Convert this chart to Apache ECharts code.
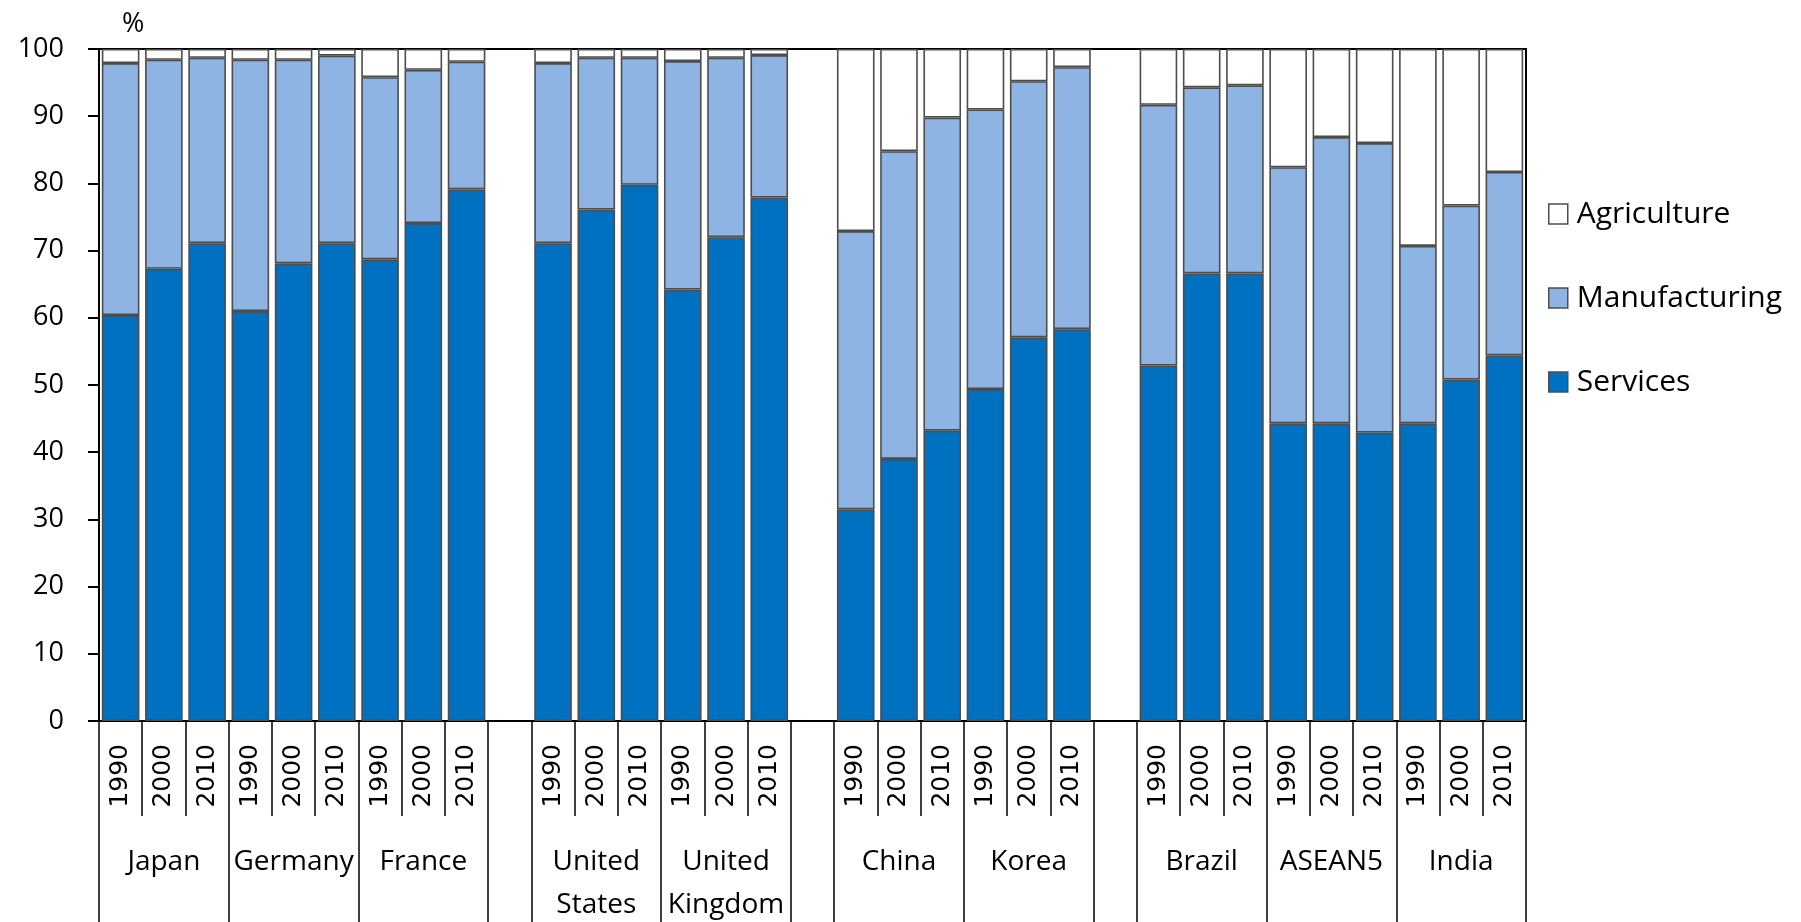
<!DOCTYPE html>
<html>
<head>
<meta charset="utf-8">
<script src="https://cdn.jsdelivr.net/npm/echarts@6/dist/echarts.min.js"></script>
<style>
  html, body { margin: 0; padding: 0; background: #ffffff; }
  #chart { width: 1801px; height: 922px; }
</style>
</head>
<body>
<div id="chart"></div>
<script>
// Output shares by sector (% of value added), 1990 / 2000 / 2010 per economy
const countries = ['Japan', 'Germany', 'France', 'United States', 'United Kingdom',
                   'China', 'Korea', 'Brazil', 'ASEAN5', 'India'];
const years = ['1990', '2000', '2010'];
// an empty slot separates these economies from the next block
const blockEnds = ['France', 'United Kingdom', 'Korea'];

const services = [
  60.4, 67.3, 71.1,   // Japan
  61.0, 68.1, 71.1,   // Germany
  68.7, 74.1, 79.1,   // France
  71.1, 76.1, 79.8,   // United States
  64.2, 72.0, 77.9,   // United Kingdom
  31.5, 39.0, 43.2,   // China
  49.4, 57.1, 58.3,   // Korea
  52.9, 66.6, 66.6,   // Brazil
  44.3, 44.3, 42.9,   // ASEAN5
  44.3, 50.8, 54.4    // India
];
const manufacturing = [
  37.5, 31.1, 27.6,
  37.4, 30.3, 27.9,
  27.1, 22.8, 19.0,
  26.8, 22.6, 18.9,
  34.0, 26.7, 21.2,
  41.4, 45.8, 46.6,
  41.6, 38.1, 39.0,
  38.8, 27.7, 28.0,
  38.1, 42.6, 43.1,
  26.4, 25.9, 27.3
];
const agriculture = [
  2.1, 1.6, 1.3,
  1.6, 1.6, 1.0,
  4.2, 3.1, 1.9,
  2.1, 1.3, 1.3,
  1.8, 1.3, 0.9,
  27.1, 15.2, 10.2,
  9.0, 4.8, 2.7,
  8.3, 5.7, 5.4,
  17.6, 13.1, 14.0,
  29.3, 23.3, 18.3
];
const yTicks = { min: 0, max: 100, step: 10 };

// Build the category slots: one per economy-year, plus an empty slot between blocks
const slots = [];
countries.forEach(function (c, ci) {
  years.forEach(function (y, yi) {
    slots.push({ country: c, year: y, mid: yi === 1, start: yi === 0, k: ci * years.length + yi });
  });
  if (blockEnds.indexOf(c) >= 0) slots.push({ gap: true, start: true });
});
const slotIds = slots.map(function (s, i) { return 'slot' + i; });
function column(values) {
  return slots.map(function (s) { return s.gap ? '-' : values[s.k]; });
}

const FONT = '"Open Sans", "Liberation Sans", sans-serif';
const YEAR_FONT = '"DejaVu Sans", "Open Sans", sans-serif';
const EDGE = '#4d4d4d';
const EDGE_W = 1.6;

const chart = echarts.init(document.getElementById('chart'), null, { renderer: 'canvas' });

const barBase = {
  type: 'bar',
  stack: 'share',
  xAxisIndex: 0,
  barCategoryGap: '13%',
  animation: false
};

chart.setOption({
  backgroundColor: '#ffffff',
  animation: false,
  grid: {
    left: 99, top: 49, width: 1427, height: 672,
    outerBoundsMode: 'none',
    containLabel: false,
    show: true, borderColor: '#000000', borderWidth: 2, backgroundColor: 'transparent'
  },
  legend: {
    orient: 'vertical',
    left: 1543, top: 194,
    itemWidth: 19, itemHeight: 20, itemGap: 54,
    icon: 'rect',
    data: ['Agriculture', 'Manufacturing', 'Services'],
    itemStyle: { borderColor: EDGE, borderWidth: 1.5 },
    textStyle: { fontFamily: FONT, fontSize: 30, color: '#000000', lineHeight: 30, padding: [0, 0, 0, 4] }
  },
  xAxis: [
    {
      // year row
      type: 'category',
      position: 'bottom',
      data: slotIds,
      boundaryGap: true,
      axisLine: { show: true, onZero: false, lineStyle: { color: '#000000', width: 2 } },
      axisTick: { show: true, interval: 0, length: 95, lineStyle: { color: '#000000', width: 1.5 } },
      axisLabel: {
        interval: 0, rotate: 90, margin: 23,
        fontFamily: YEAR_FONT, fontSize: 25, color: '#000000',
        formatter: function (v, i) { return slots[i].year || ''; }
      },
      splitLine: { show: false }
    },
    {
      // economy row
      type: 'category',
      position: 'bottom',
      data: slotIds,
      boundaryGap: true,
      axisLine: { show: false },
      axisTick: {
        show: true, length: 210,
        interval: function (i) { return !!slots[i].start; },
        lineStyle: { color: '#000000', width: 1.5 }
      },
      axisLabel: {
        interval: 0, margin: 120,
        fontFamily: FONT, fontSize: 28, color: '#000000', lineHeight: 43,
        formatter: function (v, i) { return slots[i].mid ? slots[i].country.replace(' ', '\n') : ''; }
      },
      splitLine: { show: false }
    }
  ],
  yAxis: {
    type: 'value',
    min: yTicks.min, max: yTicks.max, interval: yTicks.step,
    name: '%',
    nameLocation: 'end',
    nameGap: 11,
    nameTextStyle: { fontFamily: FONT, fontSize: 27, color: '#000000', align: 'left', padding: [0, 0, 0, 23] },
    axisLine: { show: true, lineStyle: { color: '#000000', width: 2 } },
    axisTick: { show: true, inside: false, length: 11, lineStyle: { color: '#000000', width: 2 } },
    axisLabel: { margin: 35, padding: [3, 0, 0, 0], fontFamily: FONT, fontSize: 27, color: '#000000' },
    splitLine: { show: false }
  },
  series: [
    Object.assign({}, barBase, {
      name: 'Services',
      data: column(services),
      itemStyle: { color: '#0070C0', borderColor: EDGE, borderWidth: EDGE_W }
    }),
    Object.assign({}, barBase, {
      name: 'Manufacturing',
      data: column(manufacturing),
      itemStyle: { color: '#8EB4E3', borderColor: EDGE, borderWidth: EDGE_W }
    }),
    Object.assign({}, barBase, {
      name: 'Agriculture',
      data: column(agriculture),
      itemStyle: { color: '#FFFFFF', borderColor: EDGE, borderWidth: EDGE_W }
    })
  ]
});
</script>
</body>
</html>
